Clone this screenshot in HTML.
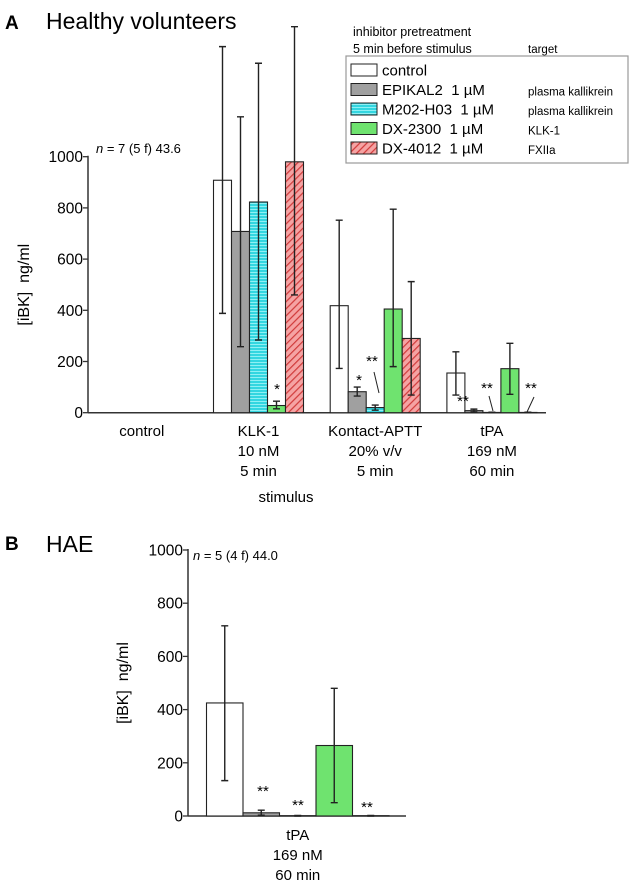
<!DOCTYPE html>
<html><head><meta charset="utf-8">
<style>
html,body{margin:0;padding:0;background:#fff;}
svg{display:block;font-family:"Liberation Sans",sans-serif;}
text{white-space:pre;}
</style></head>
<body>
<svg id="fig" width="632" height="884" viewBox="0 0 632 884">
<defs>
<pattern id="hstripe" width="4" height="3" patternUnits="userSpaceOnUse"><rect width="4" height="3" fill="#33d6e0"/><rect y="2" width="4" height="1" fill="#8ff0f4"/></pattern>
<pattern id="diag" width="5" height="5" patternUnits="userSpaceOnUse" patternTransform="rotate(45)"><rect width="5" height="5" fill="#f5a3a3"/><rect width="1.2" height="5" fill="#d03a3a"/></pattern>
</defs>
<text x="5" y="29" font-size="19" font-weight="bold">A</text>
<text x="46" y="29" font-size="23">Healthy volunteers</text>
<text x="353" y="36" font-size="12.5">inhibitor pretreatment</text>
<text x="353" y="53" font-size="12.5">5 min before stimulus</text>
<text x="528" y="53" font-size="11.5">target</text>
<rect x="346" y="56" width="282" height="107" fill="#fff" stroke="#999" stroke-width="1.2"/>
<g id="legend"></g>
<text x="96" y="153" font-size="13"><tspan font-style="italic">n</tspan> = 7 (5 f) 43.6</text>
<g id="panelA"></g>
<text x="5" y="550" font-size="19" font-weight="bold">B</text>
<text x="46" y="552" font-size="23">HAE</text>
<text x="193" y="560" font-size="13"><tspan font-style="italic">n</tspan> = 5 (4 f) 44.0</text>
<g id="panelB"></g>
</svg>
<script>
const seriesNames = ["control","EPIKAL2  1 µM","M202-H03  1 µM","DX-2300  1 µM","DX-4012  1 µM"];
const seriesTargets = ["","plasma kallikrein","plasma kallikrein","KLK-1","FXIIa"];
const seriesFills = ["#ffffff","#a0a0a0","url(#hstripe)","#6fe36f","url(#diag)"];
const swatchFills = ["#ffffff","#a0a0a0","url(#hstripe)","#6fe36f","url(#diag)"];
const categoriesA = [["control"],["KLK-1","10 nM","5 min"],["Kontact-APTT","20% v/v","5 min"],["tPA","169 nM","60 min"]];
const valuesA = [[0,0,0,0,0],[908,708,823,28,980],[418,82,20,405,290],[155,8,1,172,1]];
const errLowA = [[0,0,0,0,0],[388,258,284,15,460],[173,65,10,180,69],[69,3,0,72,0]];
const errHighA = [[0,0,0,0,0],[1430,1156,1365,45,1508],[752,100,30,795,512],[238,14,2,271,2]];
const categoriesB = [["tPA","169 nM","60 min"]];
const valuesB = [[425,12,1,265,1]];
const errLowB = [[133,3,0,50,0]];
const errHighB = [[715,22,2,480,2]];
const yTicks = [0,200,400,600,800,1000];
const NS="http://www.w3.org/2000/svg";
function mk(tag,attrs,parent,txt){const e=document.createElementNS(NS,tag);for(const k in attrs)e.setAttribute(k,attrs[k]);if(txt!==undefined)e.textContent=txt;parent.appendChild(e);return e;}

const lg=document.getElementById('legend');
seriesNames.forEach((n,i)=>{
  const y=64+i*19.5;
  const r=mk('rect',{x:351,y:y,width:26,height:12,fill:swatchFills[i],stroke:'#222','stroke-width':1},lg);
  
  
  const t=mk('text',{x:382,y:y+11.5,'font-size':15},lg,n);
  
  
  if(seriesTargets[i]){const tt=mk('text',{x:528,y:y+12,'font-size':11.5},lg,seriesTargets[i]);
  
  }
});

function drawPanel(g,cfg){
  const y=v=>cfg.y0-(v/1000)*(cfg.y0-cfg.y1000);
  const ax=mk('line',{x1:cfg.axX,y1:cfg.y1000-1,x2:cfg.axX,y2:cfg.y0,stroke:'#333','stroke-width':1.5},g);
  
  
  const xa=mk('line',{x1:cfg.axX,y1:cfg.y0,x2:cfg.axEnd,y2:cfg.y0,stroke:'#333','stroke-width':1.5},g);
  
  
  yTicks.forEach(t=>{
    mk('line',{x1:cfg.axX-5,y1:y(t),x2:cfg.axX,y2:y(t),stroke:'#333','stroke-width':1.3},g);
    const tl=mk('text',{x:cfg.axX-5,y:y(t)+5.5,'font-size':15.5,'text-anchor':'end'},g,t);
    
    
  });
  const yl=mk('text',{transform:`translate(${cfg.ylX},${(cfg.y0+cfg.y1000)/2}) rotate(-90)`,'font-size':16,'text-anchor':'middle'},g,'[iBK]  ng/ml');
  
  
  cfg.cats.forEach((cat,ci)=>{
    const gx=cfg.firstStart+ci*cfg.groupStep;
    cfg.vals[ci].forEach((v,si)=>{
      const x=gx+si*cfg.bw;
      if(v>0){const b=mk('rect',{x:x,y:y(v),width:cfg.bw,height:cfg.y0-y(v),fill:seriesFills[si],stroke:'#222','stroke-width':1.1},g);
      
      }
      const lo=cfg.lo[ci][si],hi=cfg.hi[ci][si];
      if(hi>lo+1){const cx=x+cfg.bw/2;
        const eb=mk('path',{d:`M${cx},${y(lo)}V${y(hi)}M${cx-3.5},${y(lo)}H${cx+3.5}M${cx-3.5},${y(hi)}H${cx+3.5}`,stroke:'#222','stroke-width':1.4,fill:'none'},g);
        
        }
    });
    const cx=gx+cfg.bw*2.5;
    cat.forEach((l,li)=>{const t=mk('text',{x:cx,y:cfg.labY+li*20,'font-size':15,'text-anchor':'middle'},g,l);
      
      });
  });
}
const gA=document.getElementById('panelA');
drawPanel(gA,{y0:412.7,y1000:156.7,axX:88,axEnd:546,ylX:29,firstStart:96.8,groupStep:116.7,bw:18,cats:categoriesA,vals:valuesA,lo:errLowA,hi:errHighA,labY:436});
const st=mk('text',{x:286,y:502,'font-size':15,'text-anchor':'middle'},gA,'stimulus');


const gB=document.getElementById('panelB');
drawPanel(gB,{y0:816,y1000:550,axX:188,axEnd:406,ylX:128,firstStart:206.5,groupStep:0,bw:36.5,cats:categoriesB,vals:valuesB,lo:errLowB,hi:errHighB,labY:840});

const stars=[[277,394,'*'],[359,385,'*'],[372,366,'**'],[463,406,'**'],[487,393,'**'],[531,393,'**'],[263,796,'**'],[298,810,'**'],[367,812,'**']];
stars.forEach(s=>{const t=mk('text',{x:s[0],y:s[1],'font-size':15,'text-anchor':'middle'},document.getElementById('fig'),s[2]);
  
  });
const leaders=[[374,372,379,393],[489,396,493,411],[534,397,527,412]];
leaders.forEach(l=>{const e=mk('line',{x1:l[0],y1:l[1],x2:l[2],y2:l[3],stroke:'#222','stroke-width':1},document.getElementById('fig'));
  
  });
</script>
</body></html>
